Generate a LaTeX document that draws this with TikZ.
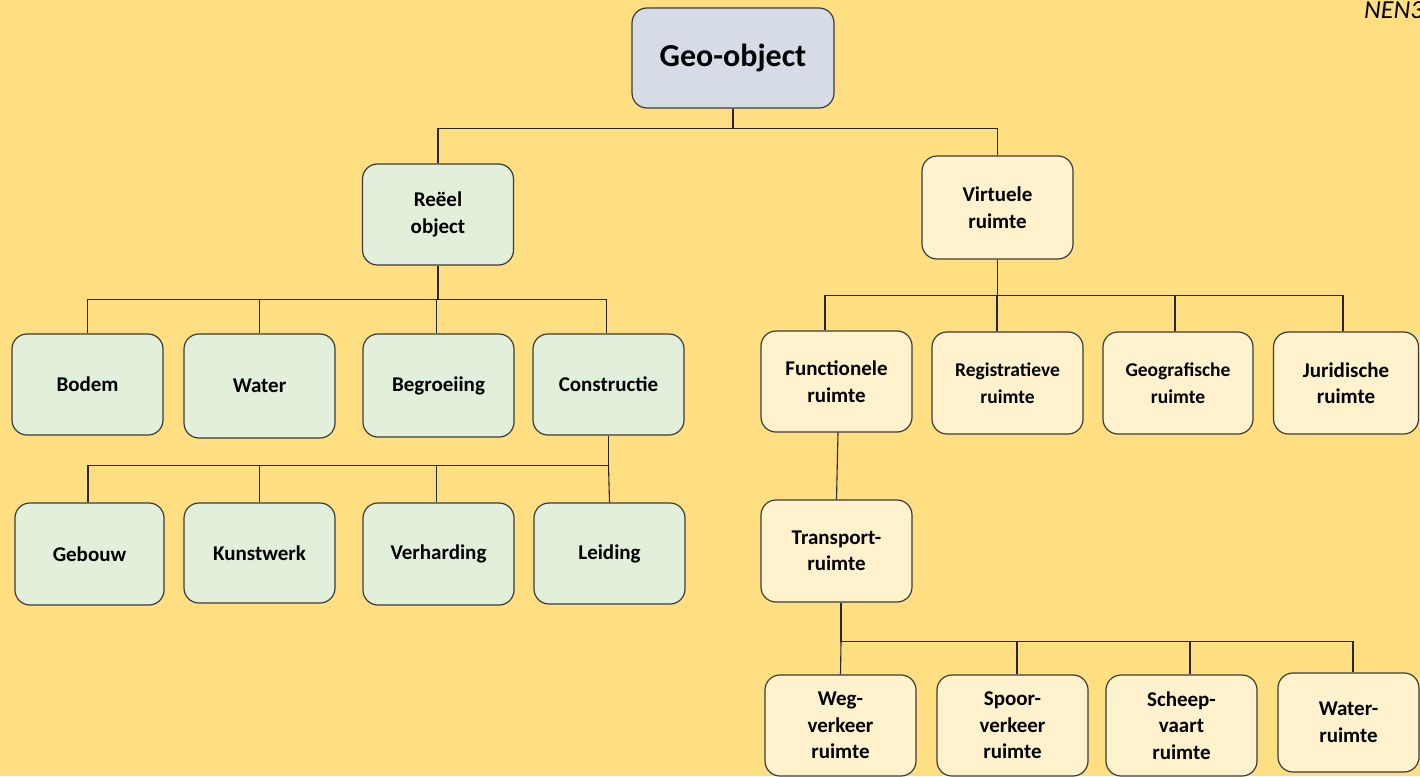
\documentclass[tikz,border=0pt]{standalone}
\usepackage{fontspec}
\setmainfont{Carlito}
\definecolor{bgc}{HTML}{FFDF81}
\definecolor{geoc}{HTML}{D6DCE5}
\definecolor{grn}{HTML}{E2EFDA}
\definecolor{ylw}{HTML}{FFF2CC}
\definecolor{edge}{HTML}{3A3A3A}
\begin{document}
\begin{tikzpicture}[x=1pt,y=-1pt,
  box/.style={draw=edge, line width=1.2pt, rounded corners=15pt,
    minimum width=151pt, minimum height=101pt, align=center, inner sep=2pt,
    font=\fontsize{21}{26.5}\selectfont\bfseries},
  gbox/.style={box, fill=grn},
  ybox/.style={box, fill=ylw},
  conn/.style={draw=black!85, line width=1.1pt}]
\useasboundingbox (0,0) rectangle (1420,776);
\clip (0,0) rectangle (1420,776);
\fill[bgc] (0,0) rectangle (1420,776);

\node[anchor=base west, inner sep=0pt, font=\fontsize{26}{30}\selectfont\itshape] (nen) at (1364,19) {NEN3610};

\node[box, fill=geoc, minimum width=202pt, minimum height=100pt,
  font=\fontsize{32}{38}\selectfont\bfseries] (geo) at (733,58) {Geo-object};

\node[gbox] (reeel) at (438,214.5) {Reëel\\object};
\node[ybox, minimum height=103pt] (virt) at (997.5,207.5) {Virtuele\\ruimte};

% left row 2
\node[gbox] (bodem) at (87.5,384.5) {Bodem};
\node[gbox, minimum height=104pt] (water) at (259.5,386) {Water};
\node[gbox, minimum height=103pt] (begr) at (438.5,385.5) {Begroeiing};
\node[gbox] (constr) at (608.5,384.5) {Constructie};

% left row 3
\node[gbox, minimum width=149pt, minimum height=102pt] (gebouw) at (89.5,554) {Gebouw};
\node[gbox, minimum height=100pt] (kunst) at (259.5,553) {Kunstwerk};
\node[gbox, minimum height=102pt] (verh) at (438.5,554) {Verharding};
\node[gbox] (leid) at (609.5,553.5) {Leiding};

% right row 2
\node[ybox] (func) at (836.5,381.5) {Functionele\\ruimte};
\node[ybox, minimum height=102pt, font=\fontsize{19.5}{26.5}\selectfont\bfseries] (reg) at (1007.5,383) {Registratieve\\ruimte};
\node[ybox, minimum width=150pt, minimum height=102pt, font=\fontsize{19.5}{26.5}\selectfont\bfseries] (geog) at (1178,383) {Geografische\\ruimte};
\node[ybox, minimum width=145pt, minimum height=102pt] (jur) at (1346,383) {Juridische\\ruimte};

% transport
\node[ybox, minimum height=102pt] (trans) at (836.5,551) {Transport-\\ruimte};

% bottom row
\node[ybox] (weg) at (840.5,725.5) {Weg-\\verkeer\\ruimte};
\node[ybox] (spoor) at (1012.5,725.5) {Spoor-\\verkeer\\ruimte};
\node[ybox] (scheep) at (1181.5,725.5) {Scheep-\\vaart\\ruimte};
\node[ybox, minimum width=141pt, minimum height=99pt] (wr) at (1348.5,722.5) {Water-\\ruimte};

% connectors: level 1
\draw[conn] (geo.south) -- ++(0,20) coordinate (b1);
\draw[conn] (reeel.north) |- (b1) -| (virt.north);

% reeel children
\draw[conn] (reeel.south) -- ++(0,34) coordinate (b2);
\draw[conn] (bodem.north) |- (b2) -| ([xshift=-2pt]constr.north);
\draw[conn] (water.north) -- (water.north |- b2);
\draw[conn] ([xshift=-2pt]begr.north) -- ([xshift=-2pt]begr.north |- b2);

% constructie children
\draw[conn] (constr.south) -- ++(0,30) coordinate (b3);
\draw[conn] ([xshift=-1.5pt]gebouw.north) |- (b3);
\draw[conn] (kunst.north) -- (kunst.north |- b3);
\draw[conn] ([xshift=-2pt]verh.north) -- ([xshift=-2pt]verh.north |- b3);
\draw[conn] (b3) -- (leid.north);

% virtuele children
\draw[conn] (virt.south) -- ++(0,36) coordinate (b4);
\draw[conn] ([xshift=-11.5pt]func.north) |- (b4) -| ([xshift=-3pt]jur.north);
\draw[conn] ([xshift=-10.5pt]reg.north) -- ([xshift=-10.5pt]reg.north |- b4);
\draw[conn] ([xshift=-3pt]geog.north) -- ([xshift=-3pt]geog.north |- b4);

% functionele -> transport
\draw[conn] ([xshift=1.5pt]func.south) -- (trans.north);

% transport children
\draw[conn] ([xshift=4.5pt]trans.south) -- ++(0,39) coordinate (b5);
\draw[conn] (b5) -| ([xshift=4.5pt]wr.north);
\draw[conn] (b5) -- (weg.north);
\draw[conn] ([xshift=4.5pt]spoor.north) -- ([xshift=4.5pt]spoor.north |- b5);
\draw[conn] ([xshift=8.5pt]scheep.north) -- ([xshift=8.5pt]scheep.north |- b5);
\end{tikzpicture}
\end{document}
